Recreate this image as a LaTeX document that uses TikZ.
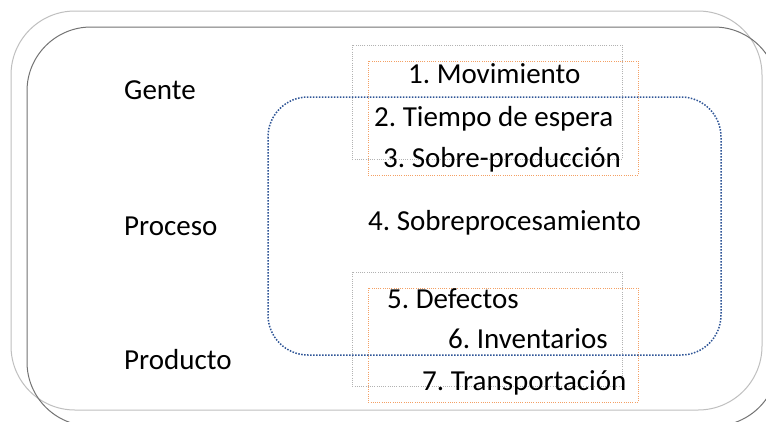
\documentclass[tikz,border=0pt]{standalone}
\usepackage{fontspec}
\setmainfont{Carlito}
\begin{document}
\frenchspacing
\begin{tikzpicture}[x=1pt,y=-1pt,
  txt/.style={font=\fontsize{29}{34}\selectfont, inner sep=0pt, anchor=base west, text=black},
  outerlight/.style={draw=black!25, line width=1pt, rounded corners=64pt},
  outerdark/.style={draw=black!55, line width=1pt, rounded corners=64pt},
  greybox/.style={draw=black!30, line width=0.8pt, dash pattern=on 1pt off 1.2pt},
  orangebox/.style={draw={rgb,255:red,244;green,160;blue,100}, line width=0.8pt, dash pattern=on 1pt off 1.2pt},
  bluebox/.style={draw={rgb,255:red,47;green,85;blue,151}, line width=1.5pt, dash pattern=on 1.5pt off 1.5pt, rounded corners=40pt}]
\useasboundingbox (0,0) rectangle (766,421);
\clip (0,0) rectangle (766,421);
\fill[white] (0,0) rectangle (766,421);
% outer frames
\draw[outerlight] (11,11) rectangle (762,410);
\draw[outerdark] (27,27) rectangle (778,426);
% dotted boxes
\draw[greybox] (352,45) rectangle (622,159);
\draw[orangebox] (368,61) rectangle (638,175);
\draw[greybox] (352,272) rectangle (622,386);
\draw[orangebox] (368,288) rectangle (638,402);
\draw[bluebox] (268,97) rectangle (721,355);
% labels
\node[txt] (gente) at (124,99) {Gente};
\node[txt] (proceso) at (124,235) {Proceso};
\node[txt] (producto) at (124,369) {Producto};
\node[txt] (m1) at (408,83) {1. Movimiento};
\node[txt] (m2) at (374,126) {2. Tiempo de espera};
\node[txt] (m3) at (383,167) {3. Sobre-producción};
\node[txt] (m4) at (368,230) {4. Sobreprocesamiento};
\node[txt] (m5) at (387,308) {5. Defectos};
\node[txt] (m6) at (448,348) {6. Inventarios};
\node[txt] (m7) at (422,390) {7. Transportación};
\end{tikzpicture}
\end{document}
